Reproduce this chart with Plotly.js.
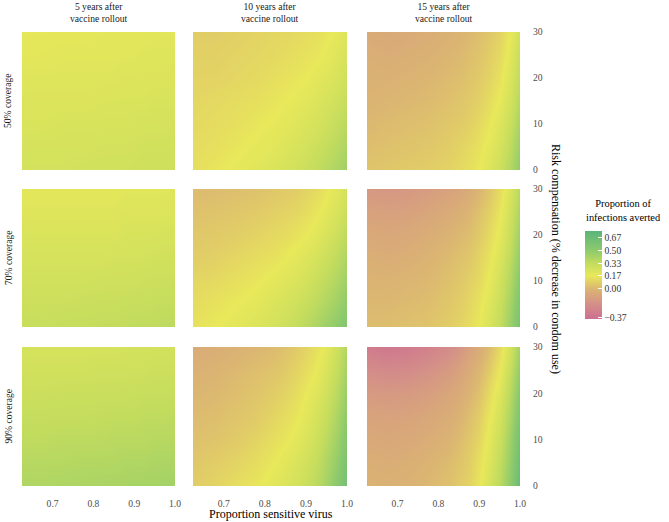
<!DOCTYPE html>
<html>
<head>
<meta charset="utf-8">
<script src="https://cdn.plot.ly/plotly-3.0.1.min.js"></script>
<style>html,body{margin:0;padding:0;background:#fff;}#chart{width:669px;height:522px;}</style>
</head>
<body>
<div id="chart"></div>
<script>
// ---- data ----
var propSensitive = [0.625, 0.675, 0.725, 0.775, 0.825, 0.85, 0.875, 0.9, 0.925, 0.95, 0.975, 1.0];
var riskComp = [0, 5, 10, 15, 20, 25, 30];
var colLabels = ["5 years after<br>vaccine rollout", "10 years after<br>vaccine rollout", "15 years after<br>vaccine rollout"];
var rowLabels = ["50% coverage", "70% coverage", "90% coverage"];
var xTicks = [0.7, 0.8, 0.9, 1.0];
var xTickText = ["0.7", "0.8", "0.9", "1.0"];
var yTicks = [0, 10, 20, 30];
var legendTicks = [0.67, 0.50, 0.33, 0.17, 0.00, -0.37];
var legendTickText = ["0.67", "0.50", "0.33", "0.17", "0.00", "\u22120.37"];

var z_50_5 = [
 [.26,.26,.26,.27,.27,.27,.27,.28,.28,.28,.28,.29],
 [.25,.25,.25,.25,.26,.26,.26,.26,.27,.27,.27,.27],
 [.23,.23,.24,.24,.24,.24,.24,.25,.25,.25,.25,.26],
 [.22,.22,.22,.22,.23,.23,.23,.23,.23,.24,.24,.24],
 [.21,.21,.21,.21,.21,.21,.22,.22,.22,.22,.22,.23],
 [.19,.19,.20,.20,.20,.20,.20,.20,.21,.21,.21,.21],
 [.18,.18,.18,.18,.19,.19,.19,.19,.19,.20,.20,.20]];
var z_50_10 = [
 [.14,.16,.18,.20,.23,.25,.27,.30,.33,.36,.40,.44],
 [.13,.14,.16,.18,.20,.22,.24,.26,.29,.32,.36,.40],
 [.12,.13,.14,.16,.18,.19,.21,.23,.25,.28,.32,.36],
 [.11,.12,.13,.14,.16,.17,.18,.20,.22,.25,.28,.32],
 [.10,.10,.11,.12,.14,.15,.16,.17,.19,.21,.24,.28],
 [.09,.09,.10,.11,.12,.13,.14,.15,.16,.18,.21,.25],
 [.08,.08,.09,.10,.11,.11,.12,.13,.14,.16,.18,.22]];
var z_50_15 = [
 [.05,.06,.07,.08,.10,.12,.14,.17,.22,.29,.38,.50],
 [.03,.04,.05,.06,.08,.10,.12,.15,.19,.25,.34,.46],
 [.01,.02,.03,.04,.06,.07,.09,.12,.16,.22,.30,.42],
 [-.01,.00,.01,.02,.04,.05,.07,.09,.13,.18,.26,.38],
 [-.02,-.02,-.01,.00,.02,.03,.05,.07,.10,.15,.23,.34],
 [-.03,-.04,-.03,-.02,.00,.01,.03,.05,.08,.12,.20,.31],
 [-.05,-.06,-.05,-.04,-.02,-.01,.01,.03,.06,.10,.17,.28]];
var z_70_5 = [
 [.31,.31,.32,.32,.33,.33,.33,.34,.34,.34,.35,.35],
 [.29,.29,.29,.30,.30,.30,.31,.31,.31,.32,.32,.32],
 [.27,.27,.27,.27,.28,.28,.28,.28,.29,.29,.29,.30],
 [.25,.25,.25,.25,.25,.26,.26,.26,.26,.27,.27,.27],
 [.23,.23,.23,.23,.23,.23,.24,.24,.24,.24,.25,.25],
 [.21,.21,.21,.21,.21,.21,.22,.22,.22,.22,.22,.23],
 [.19,.19,.19,.19,.19,.19,.20,.20,.20,.20,.20,.21]];
var z_70_10 = [
 [.15,.17,.19,.22,.26,.29,.32,.36,.40,.45,.50,.56],
 [.13,.15,.17,.19,.23,.25,.28,.31,.35,.39,.44,.50],
 [.11,.12,.14,.16,.19,.21,.23,.26,.30,.34,.39,.45],
 [.08,.09,.11,.13,.15,.17,.19,.22,.25,.29,.34,.40],
 [.06,.07,.08,.10,.12,.13,.15,.17,.20,.24,.29,.35],
 [.04,.05,.06,.07,.09,.10,.11,.13,.16,.19,.24,.30],
 [.02,.02,.03,.04,.06,.07,.08,.10,.12,.16,.20,.26]];
var z_70_15 = [
 [.03,.03,.04,.05,.08,.10,.13,.17,.24,.33,.45,.60],
 [.01,.01,.02,.03,.06,.08,.11,.15,.21,.30,.42,.57],
 [-.01,-.01,.00,.01,.04,.06,.09,.12,.18,.27,.38,.53],
 [-.03,-.04,-.03,-.01,.02,.04,.06,.10,.15,.23,.34,.49],
 [-.06,-.07,-.06,-.04,-.01,.01,.03,.07,.12,.19,.30,.45],
 [-.10,-.11,-.10,-.08,-.05,-.03,.00,.04,.09,.16,.27,.41],
 [-.15,-.16,-.15,-.13,-.10,-.08,-.05,.00,.05,.13,.23,.37]];
var z_90_5 = [
 [.39,.39,.40,.40,.41,.41,.41,.42,.42,.42,.43,.43],
 [.37,.37,.37,.38,.38,.38,.39,.39,.39,.40,.40,.40],
 [.34,.34,.35,.35,.35,.36,.36,.36,.36,.37,.37,.37],
 [.32,.32,.32,.32,.33,.33,.33,.33,.34,.34,.34,.35],
 [.29,.29,.30,.30,.30,.30,.30,.31,.31,.31,.31,.32],
 [.27,.27,.27,.27,.28,.28,.28,.28,.28,.29,.29,.29],
 [.25,.25,.25,.25,.25,.25,.26,.26,.26,.26,.26,.27]];
var z_90_10 = [
 [.08,.10,.13,.16,.20,.23,.26,.30,.35,.42,.52,.63],
 [.06,.08,.10,.13,.17,.20,.23,.27,.32,.39,.48,.59],
 [.04,.05,.07,.10,.14,.16,.19,.23,.28,.35,.44,.55],
 [.02,.03,.05,.07,.11,.13,.16,.20,.25,.31,.40,.51],
 [.00,.01,.03,.05,.08,.10,.13,.17,.21,.27,.36,.47],
 [-.02,-.01,.01,.03,.05,.07,.10,.13,.17,.23,.32,.43],
 [-.05,-.04,-.02,.00,.02,.04,.07,.10,.14,.19,.28,.39]];
var z_90_15 = [
 [-.01,-.02,-.01,.01,.04,.07,.10,.16,.25,.36,.50,.68],
 [-.03,-.04,-.03,-.01,.02,.05,.08,.14,.22,.33,.47,.65],
 [-.06,-.07,-.06,-.04,-.01,.02,.06,.11,.19,.30,.44,.62],
 [-.09,-.10,-.09,-.07,-.04,-.01,.03,.08,.16,.26,.40,.58],
 [-.14,-.15,-.14,-.12,-.08,-.05,-.01,.04,.12,.22,.36,.54],
 [-.21,-.23,-.22,-.19,-.14,-.10,-.05,.00,.07,.17,.31,.49],
 [-.31,-.34,-.32,-.28,-.22,-.17,-.11,-.05,.02,.12,.26,.44]];

var panels = [
 [z_50_5, z_50_10, z_50_15],
 [z_70_5, z_70_10, z_70_15],
 [z_90_5, z_90_10, z_90_15]];

// ---- layout ----
var W = 669, H = 522;
var colPx = [[22,175],[193,347],[367,520]];
var rowPx = [[32,170],[189,327],[347,486]];
var serif = "Liberation Serif";

var traces = [];
var layout = {
  width: W, height: H, autosize: false,
  margin: {l:0, r:0, t:0, b:0},
  paper_bgcolor: "#fff", plot_bgcolor: "#fff",
  font: {family: serif, size: 9.6, color: "#4d4d4d"},
  showlegend: false,
  coloraxis: {
    cmin: -0.39, cmax: 0.75,
    colorscale: [
      [0.0, "#cd6f91"],
      [0.167, "#d48f88"],
      [0.342, "#dbb572"],
      [0.491, "#e8e85a"],
      [0.632, "#c3dc5e"],
      [0.781, "#8dca6c"],
      [1.0, "#5ab47c"]
    ],
    colorbar: {
      x: 585/W, xanchor: "left", xref: "paper",
      y: 1 - 275/H, yanchor: "middle", yref: "paper",
      lenmode: "pixels", len: 88,
      thicknessmode: "pixels", thickness: 17,
      outlinewidth: 0,
      tickvals: legendTicks, ticktext: legendTickText,
      ticks: "inside", ticklen: 4, tickcolor: "#fff", tickwidth: 1,
      tickfont: {family: serif, size: 9.6, color: "#333"},
      xpad: 0, ypad: 0
    }
  },
  annotations: []
};

var k = 0;
for (var r = 0; r < 3; r++) {
  for (var c = 0; c < 3; c++) {
    k++;
    var sfx = (k === 1 ? "" : String(k));
    traces.push({
      type: "heatmap",
      x: propSensitive, y: riskComp, z: panels[r][c],
      xaxis: "x" + sfx, yaxis: "y" + sfx,
      coloraxis: "coloraxis", zsmooth: "best", hoverinfo: "skip"
    });
    layout["xaxis" + sfx] = {
      domain: [colPx[c][0]/W, colPx[c][1]/W],
      anchor: "y" + sfx,
      range: [0.625, 1.0], showgrid: false, zeroline: false, showline: false,
      tickvals: xTicks, ticktext: xTickText,
      showticklabels: r === 2,
      ticks: r === 2 ? "outside" : "", ticklen: 8, tickcolor: "rgba(0,0,0,0)",
      tickfont: {family: serif, size: 9.6, color: "#4d4d4d"}
    };
    layout["yaxis" + sfx] = {
      domain: [1 - rowPx[r][1]/H, 1 - rowPx[r][0]/H],
      anchor: "x" + sfx,
      range: [0, 30], showgrid: false, zeroline: false, showline: false,
      side: "right",
      tickvals: yTicks,
      showticklabels: c === 2,
      ticks: c === 2 ? "outside" : "", ticklen: 10, tickcolor: "rgba(0,0,0,0)",
      tickfont: {family: serif, size: 9.6, color: "#4d4d4d"}
    };
  }
}

// column strip titles
for (var c2 = 0; c2 < 3; c2++) {
  layout.annotations.push({
    text: colLabels[c2], xref: "paper", yref: "paper",
    x: (colPx[c2][0] + colPx[c2][1]) / 2 / W, y: 1 - 13/H,
    xanchor: "center", yanchor: "middle", showarrow: false, align: "center",
    font: {family: serif, size: 9.6, color: "#1a1a1a"}
  });
}
// row labels
for (var r2 = 0; r2 < 3; r2++) {
  layout.annotations.push({
    text: rowLabels[r2], xref: "paper", yref: "paper",
    x: 8/W, y: 1 - (rowPx[r2][0] + rowPx[r2][1]) / 2 / H,
    xanchor: "center", yanchor: "middle", showarrow: false, textangle: -90,
    font: {family: serif, size: 9.6, color: "#1a1a1a"}
  });
}
// x axis title
layout.annotations.push({
  text: "Proportion sensitive virus", xref: "paper", yref: "paper",
  x: 271/W, y: 1 - 514/H, xanchor: "center", yanchor: "middle", showarrow: false,
  font: {family: serif, size: 12, color: "#000"}
});
// y axis title (right side, reading downward)
layout.annotations.push({
  text: "Risk compensation (% decrease in condom use)", xref: "paper", yref: "paper",
  x: 556/W, y: 1 - 259/H, xanchor: "center", yanchor: "middle", showarrow: false, textangle: 90,
  font: {family: serif, size: 12, color: "#000"}
});
// legend title
layout.annotations.push({
  text: "Proportion of<br>infections averted", xref: "paper", yref: "paper",
  x: 584/W, y: 1 - 210/H, xanchor: "left", yanchor: "middle", showarrow: false, align: "center",
  font: {family: serif, size: 10.4, color: "#000"}
});

Plotly.newPlot("chart", traces, layout, {staticPlot: true, displayModeBar: false});
</script>
</body>
</html>
